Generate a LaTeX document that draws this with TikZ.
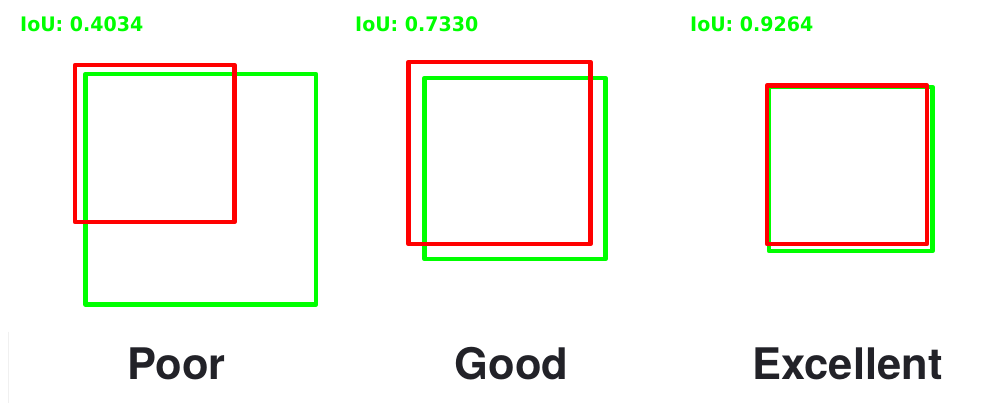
\documentclass[tikz,border=0pt]{standalone}
\usepackage{fontspec}
\setmainfont{TeX Gyre Heros}
\newfontfamily\scorefont{DejaVu Sans}
\definecolor{gtgreen}{RGB}{0,255,0}
\definecolor{predred}{RGB}{255,0,0}
\definecolor{captiongray}{RGB}{34,34,40}
\tikzset{
  gtbox/.style={draw=gtgreen, line width=4.5pt, line join=round},
  predbox/.style={draw=predred, line width=4.5pt, line join=round},
  score/.style={text=gtgreen, inner sep=0pt, anchor=base west, font=\scorefont\bfseries\fontsize{20}{24}\selectfont},
  caption/.style={text=captiongray, inner sep=0pt, anchor=base, font=\bfseries\fontsize{43.5}{50}\selectfont}
}

\begin{document}
\begin{tikzpicture}[x=1pt, y=-1pt]
    \useasboundingbox[fill=white] (0,0) rectangle (1004,403);
    \draw[gray!12, line width=1.5pt] (8.5,332) -- (8.5,403);
    \foreach \gx/\gy/\gX/\gY/\rx/\ry/\rX/\rY/\sx/\iou/\cx/\name in {
        85.5/74/316/304.5/75/65/234.5/222/20/0.4034/176.5/Poor,
        424.5/78/605.5/259/408.5/62/590.5/244/355/0.7330/511.5/Good,
        769/87/932.5/251/767/85.5/927/244/690/0.9264/847.5/Excellent}
    {
        \draw[gtbox] (\gx,\gy) rectangle (\gX,\gY);
        \draw[predbox] (\rx,\ry) rectangle (\rX,\rY);
        \node[score, xscale=0.95, transform shape] (score-\name) at (\sx,32) {IoU: \iou};
        \node[caption] (caption-\name) at (\cx,379.5) {\name};
    }
\end{tikzpicture}
\end{document}
